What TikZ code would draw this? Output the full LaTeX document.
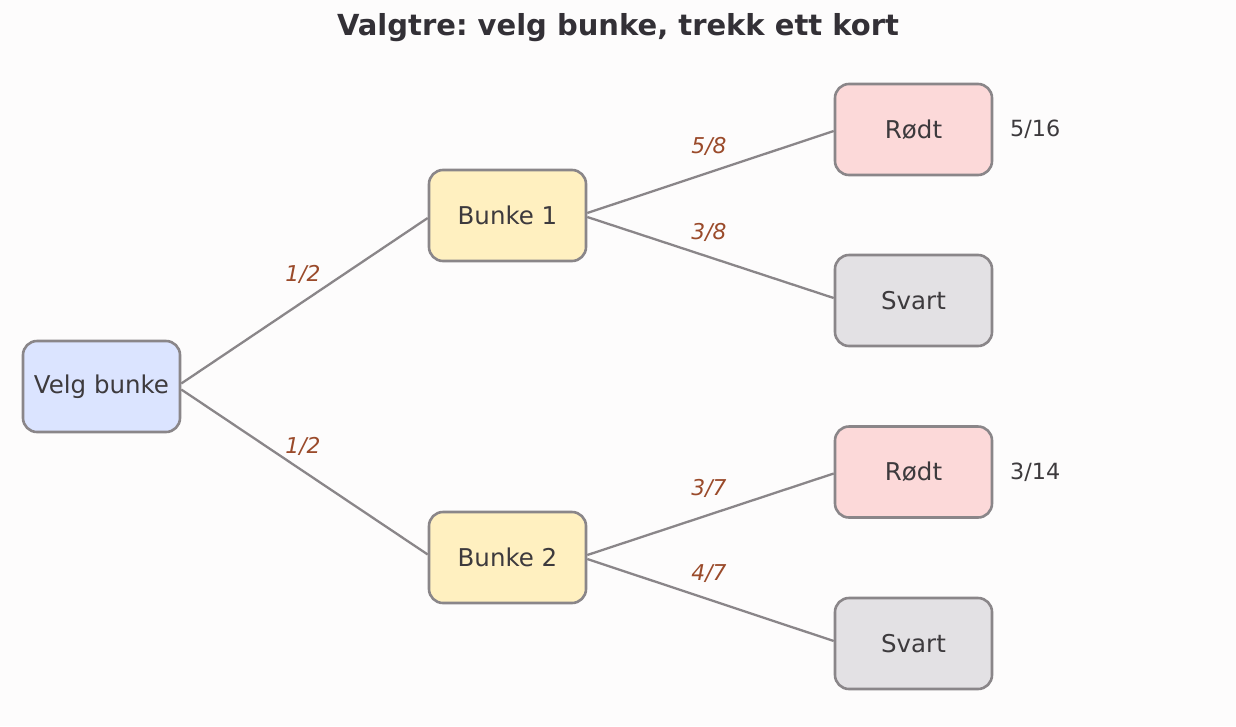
\documentclass[tikz,border=0pt]{standalone}
\usepackage{fontspec}
\setmainfont{DejaVu Sans}
\usetikzlibrary{calc}
\frenchspacing
\definecolor{bg}{HTML}{FDFCFC}
\definecolor{edgec}{HTML}{8A8689}
\definecolor{txt}{HTML}{3D3A3D}
\definecolor{ttl}{HTML}{333036}
\definecolor{lab}{HTML}{9A4A2A}
\definecolor{cblue}{HTML}{DBE4FF}
\definecolor{cyellow}{HTML}{FFF0C0}
\definecolor{cpink}{HTML}{FCD9D9}
\definecolor{cgray}{HTML}{E3E1E4}
\tikzset{
  box/.style={draw=edgec, line width=2.6pt, rounded corners=14pt, minimum width=157pt, minimum height=91pt, inner sep=0pt, text=txt, font=\fontsize{24.5}{28}\selectfont},
  startbox/.style={box, fill=cblue},
  pilebox/.style={box, fill=cyellow},
  redbox/.style={box, fill=cpink},
  blackbox/.style={box, fill=cgray},
  conn/.style={draw=edgec, line width=2.3pt},
  prob/.style={text=lab, font=\fontsize{21.8}{25}\selectfont\itshape},
  result/.style={text=txt, anchor=west, inner sep=0pt, font=\fontsize{22.3}{26}\selectfont},
  titlest/.style={text=ttl, font=\fontsize{29}{33}\selectfont\bfseries}
}
\begin{document}
\begin{tikzpicture}[x=1pt,y=-1pt]
\fill[bg] (0,0) rectangle (1236,726);
\useasboundingbox (0,0) rectangle (1236,726);
\node[titlest] (title) at (618,28) {Valgtre: velg bunke, trekk ett kort};
\node[startbox] (start) at (101.5,386.5) {Velg bunke};
\node[pilebox] (b1) at (507.5,215.5) {Bunke 1};
\node[pilebox] (b2) at (507.5,557.5) {Bunke 2};
\node[redbox] (r1) at (913.5,129.5) {Rødt};
\node[blackbox] (s1) at (913.5,300.5) {Svart};
\node[redbox] (r2) at (913.5,472) {Rødt};
\node[blackbox] (s2) at (913.5,643.5) {Svart};
\draw[conn] ([yshift=3pt]start.east) -- ([yshift=-2.5pt]b1.west);
\draw[conn] ([yshift=-3pt]start.east) -- ([yshift=3pt]b2.west);
\draw[conn] ([yshift=2.5pt]b1.east) -- ([yshift=-1.5pt]r1.west);
\draw[conn] ([yshift=-1.5pt]b1.east) -- ([yshift=2.5pt]s1.west);
\draw[conn] ([yshift=2.5pt]b2.east) -- ([yshift=-1.5pt]r2.west);
\draw[conn] ([yshift=-1.5pt]b2.east) -- ([yshift=2.5pt]s2.west);
\node[prob] (l1) at (303,274) {1/2};
\node[prob] (l2) at (303,446) {1/2};
\node[prob] (l3) at (709,146) {5/8};
\node[prob] (l4) at (709,232) {3/8};
\node[prob] (l5) at (709,488) {3/7};
\node[prob] (l6) at (709,574) {4/7};
\node[result] (p1) at (1010,129) {5/16};
\node[result] (p2) at (1010,472) {3/14};
\end{tikzpicture}
\end{document}
